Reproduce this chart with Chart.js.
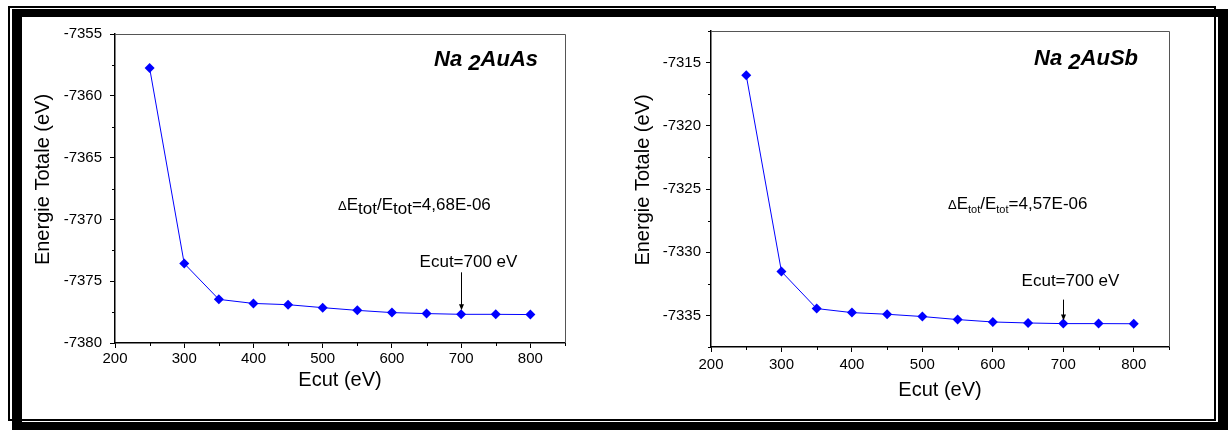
<!DOCTYPE html>
<html lang="fr">
<head>
<meta charset="UTF-8">
<title>Convergence Ecut - Na2AuAs / Na2AuSb</title>
<script src="https://cdn.jsdelivr.net/npm/chart.js"></script>
<style>
    body {
        margin: 0;
        width: 1228px;
        height: 430px;
        position: relative;
        overflow: hidden;
        background: #fff;
    }
    .frame-thin {
        position: absolute;
        left: 8px; top: 6px;
        width: 1208px; height: 415px;
        border: 2px solid #000;
        box-sizing: border-box;
    }
    .frame-thick {
        position: absolute;
        left: 12px; top: 9px;
        width: 1216px; height: 421px;
        border-style: solid;
        border-color: #000;
        border-width: 8px 10px 8px 10px;
        box-sizing: border-box;
    }
    #chartAs { position: absolute; left: 22px; top: 17px; }
    #chartSb { position: absolute; left: 600px; top: 17px; }
</style>
</head>
<body>
    <div class="frame-thin"></div>
    <div class="frame-thick"></div>
    <canvas id="chartAs" width="568" height="402"></canvas>
    <canvas id="chartSb" width="614" height="402"></canvas>

<script>
// cut-off energies (eV)
const ecut = [250, 300, 350, 400, 450, 500, 550, 600, 650, 700, 750, 800];
// total energies (eV)
const energyAs = [-7357.75, -7373.57, -7376.47, -7376.80, -7376.90, -7377.14,
                  -7377.36, -7377.54, -7377.62, -7377.68, -7377.68, -7377.70];
const energySb = [-7316.00, -7331.53, -7334.46, -7334.78, -7334.91, -7335.09,
                  -7335.33, -7335.52, -7335.60, -7335.65, -7335.65, -7335.66];
// axis ranges
const xRange = [200, 850];
const yRangeAs = [-7380, -7355];
const yRangeSb = [-7337.5, -7312.5];
// text labels
const ratioAs = '4,68E-06';
const ratioSb = '4,57E-06';
const ecutChosen = 700;
const yTitle = 'Energie Totale (eV)';

const FONT = 'Arial, "Liberation Sans", sans-serif';

function drawParts(ctx, x, y, parts) {
    parts.forEach(p => {
        ctx.font = p[1];
        ctx.fillText(p[0], x, y + p[2]);
        x += ctx.measureText(p[0]).width;
    });
}

function partsWidth(ctx, parts) {
    let w = 0;
    parts.forEach(p => { ctx.font = p[1]; w += ctx.measureText(p[0]).width; });
    return w;
}

// box, minor ticks, y title and annotations
function notesPlugin(n) {
    return {
        id: 'notes',
        afterDraw(chart) {
            const ctx = chart.ctx;
            const a = chart.chartArea;
            const xs = chart.scales.x, ys = chart.scales.y;
            ctx.save();

            // top and right edges of the plot box
            ctx.strokeStyle = '#555';
            ctx.lineWidth = 1;
            ctx.beginPath();
            ctx.moveTo(a.left, a.top + 0.5);
            ctx.lineTo(a.right + 0.5, a.top + 0.5);
            ctx.lineTo(a.right + 0.5, a.bottom);
            ctx.stroke();

            // minor ticks
            ctx.strokeStyle = '#000';
            ctx.beginPath();
            xs.ticks.forEach(t => {
                if (t.value % 100 !== 0) {
                    const px = Math.round(xs.getPixelForValue(t.value)) + 0.5;
                    ctx.moveTo(px, a.bottom);
                    ctx.lineTo(px, a.bottom + 3);
                }
            });
            ys.ticks.forEach(t => {
                if (t.value % 5 !== 0) {
                    const py = Math.round(ys.getPixelForValue(t.value)) + 0.5;
                    ctx.moveTo(a.left - 3, py);
                    ctx.lineTo(a.left, py);
                }
            });
            ctx.stroke();

            ctx.fillStyle = '#000';

            // y axis title, sits a bit above the middle of the axis
            ctx.save();
            ctx.translate(21 + n.yTitleShift, (a.top + a.bottom) / 2 - 9);
            ctx.rotate(-Math.PI / 2);
            ctx.font = '20px ' + FONT;
            ctx.textAlign = 'center';
            ctx.textBaseline = 'middle';
            ctx.fillText(yTitle, 0, 0);
            ctx.restore();

            ctx.textBaseline = 'alphabetic';
            ctx.textAlign = 'left';

            // compound name
            const bi = 'italic bold 22px ' + FONT;
            const name = [['Na ', bi, 0], ['2', bi, 4], [n.name, bi, 0]];
            drawParts(ctx, a.right - n.nameRight - partsWidth(ctx, name), a.top + n.nameBase, name);

            // convergence criterion
            const f = '17px ' + FONT;
            const sub = n.subSize + 'px ' + FONT;
            drawParts(ctx, a.left + n.ratioLeft, a.top + n.ratioBase, [
                ['\u0394', '13px ' + FONT, 0], ['E', f, 0], ['tot', sub, 4],
                ['/E', f, 0], ['tot', sub, 4], ['=' + n.ratio, f, 0]
            ]);

            // arrow to the chosen cut-off
            const i = ecut.indexOf(ecutChosen);
            const px = Math.round(xs.getPixelForValue(ecutChosen)) + 0.5;
            const py = ys.getPixelForValue(chart.data.datasets[0].data[i].y);
            ctx.beginPath();
            ctx.moveTo(px, py - n.arrowFrom);
            ctx.lineTo(px, py - n.arrowTo - 5);
            ctx.stroke();
            ctx.beginPath();
            ctx.moveTo(px, py - n.arrowTo);
            ctx.lineTo(px - 2.5, py - n.arrowTo - 6);
            ctx.lineTo(px + 2.5, py - n.arrowTo - 6);
            ctx.closePath();
            ctx.fill();

            ctx.font = '17px ' + FONT;
            ctx.textAlign = 'center';
            ctx.fillText('Ecut=' + ecutChosen + ' eV', px + 7, py - n.textBase);
            ctx.restore();
        }
    };
}

function makeChart(id, energies, yRange, layout, n) {
    const points = ecut.map((x, i) => ({ x: x, y: energies[i] }));
    return new Chart(document.getElementById(id), {
        type: 'line',
        data: {
            datasets: [{
                data: points,
                borderColor: '#0000ff',
                backgroundColor: '#0000ff',
                borderWidth: 1,
                pointStyle: 'rectRot',
                pointRadius: 5,
                pointBorderWidth: 0,
                tension: 0
            }]
        },
        options: {
            responsive: false,
            animation: false,
            devicePixelRatio: 1,
            layout: { padding: { top: 14, right: layout.right, left: 0, bottom: 0 } },
            plugins: { legend: { display: false }, tooltip: { enabled: false } },
            scales: {
                x: {
                    type: 'linear',
                    min: xRange[0],
                    max: xRange[1],
                    afterFit: s => { s.height = layout.xHeight; },
                    border: { color: '#000', width: 1.5 },
                    grid: {
                        drawOnChartArea: false,
                        tickLength: 5,
                        tickColor: c => (c.tick && c.tick.value % 100 === 0 ? '#000' : 'rgba(0,0,0,0)')
                    },
                    ticks: {
                        stepSize: 50,
                        autoSkip: false,
                        maxRotation: 0,
                        padding: layout.xPad,
                        color: '#000',
                        font: { family: FONT, size: 15 },
                        callback: v => (v % 100 === 0 ? String(v) : '')
                    },
                    title: {
                        display: true,
                        text: 'Ecut (eV)',
                        color: '#000',
                        font: { family: FONT, size: 20 },
                        padding: { top: 0, bottom: layout.xTitle }
                    }
                },
                y: {
                    type: 'linear',
                    min: yRange[0],
                    max: yRange[1],
                    afterFit: s => { s.width = layout.yWidth; },
                    border: { color: '#000', width: 1.5 },
                    grid: {
                        drawOnChartArea: false,
                        tickLength: 5,
                        tickColor: c => (c.tick && c.tick.value % 5 === 0 ? '#000' : 'rgba(0,0,0,0)')
                    },
                    ticks: {
                        stepSize: 2.5,
                        autoSkip: false,
                        padding: layout.yPad,
                        color: '#000',
                        font: { family: FONT, size: 15 },
                        callback: v => (v % 5 === 0 ? String(v) : '')
                    }
                }
            }
        },
        plugins: [notesPlugin(n)]
    });
}

makeChart('chartAs', energyAs, yRangeAs,
    { right: 25, xHeight: 76, yWidth: 93, xPad: 2, yPad: 8, xTitle: 27 },
    { name: 'AuAs', nameRight: 27, nameBase: 32, ratio: ratioAs, subSize: 17, yTitleShift: 0,
      ratioLeft: 223, ratioBase: 176, arrowFrom: 42, arrowTo: 4, textBase: 47 });

makeChart('chartSb', energySb, yRangeSb,
    { right: 45, xHeight: 72, yWidth: 111, xPad: 4, yPad: 5, xTitle: 17 },
    { name: 'AuSb', nameRight: 31, nameBase: 34, ratio: ratioSb, subSize: 11, yTitleShift: 22,
      ratioLeft: 237, ratioBase: 178, arrowFrom: 24, arrowTo: 3, textBase: 38 });
</script>
</body>
</html>
